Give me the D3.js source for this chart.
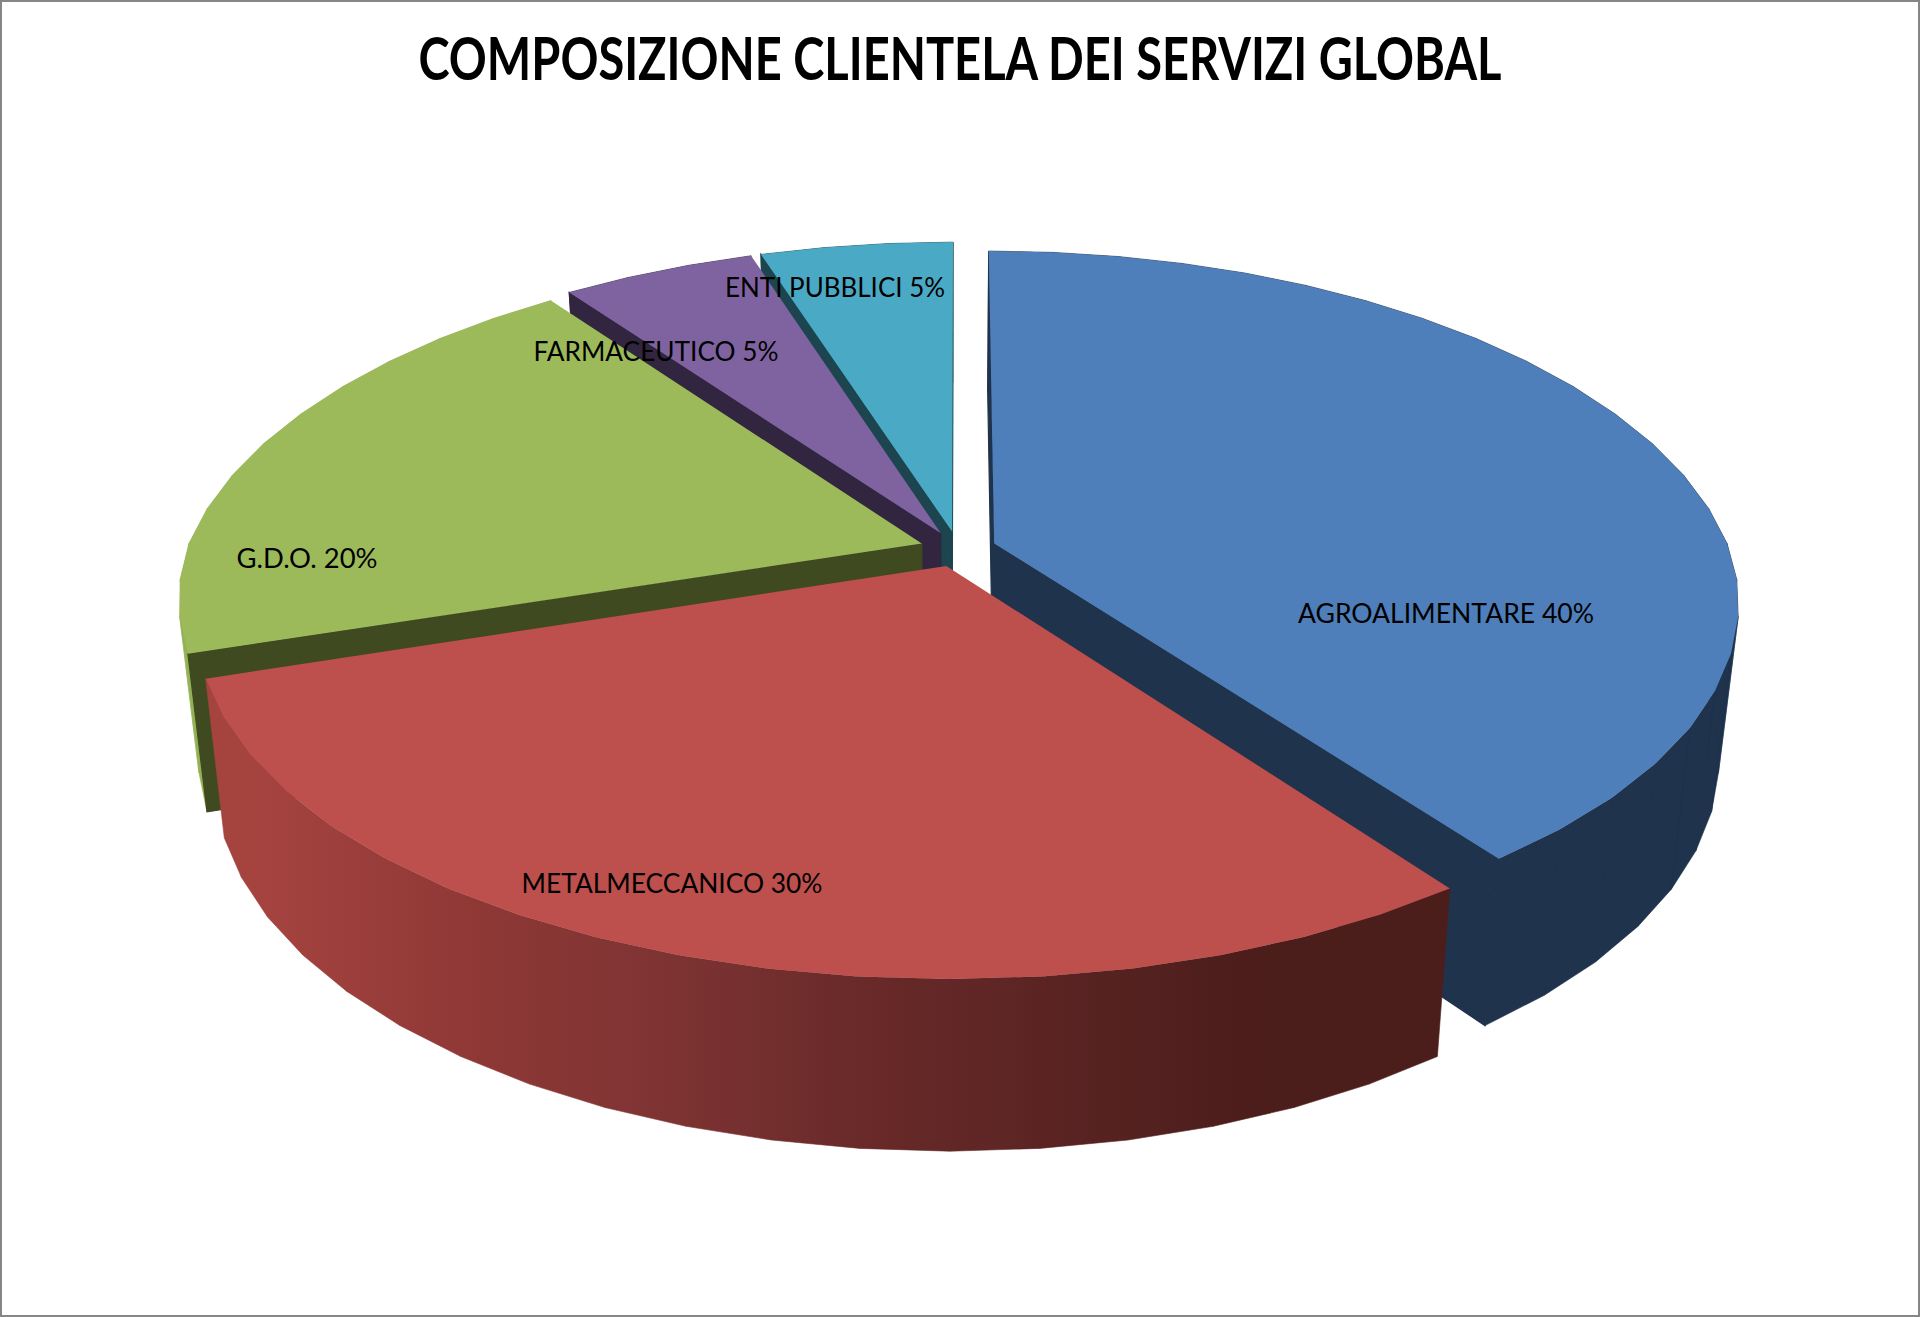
<!DOCTYPE html>
<html>
<head>
<meta charset="utf-8">
<script src="https://cdn.jsdelivr.net/npm/d3@7"></script>
<style>
  html,body{margin:0;padding:0;background:#fff}
  svg{display:block}
  text{font-family:Lato,"Open Sans",sans-serif;fill:#000}
</style>
</head>
<body>
<script>
const title = 'COMPOSIZIONE CLIENTELA DEI SERVIZI GLOBAL'
const categories = ['AGROALIMENTARE','METALMECCANICO','G.D.O.','FARMACEUTICO','ENTI PUBBLICI']
const values = [40,30,20,5,5]
const topColors = ['#4f7fba','#bd4f4c','#9cba5a','#7f63a0','#4aa9c4']
const faceColors = ['#1f334c','#4a1c1b','#3f4a20','#31253f','#1c4550']
const redSideStops = ['#a5433f','#8c3735','#7f3433','#6a2a29','#5a2423','#4b1d1b']

const W = 1920, H = 1317
const svg = d3.select('body').append('svg').attr('width',W).attr('height',H)

// Projection of the tilted disc, fitted on the picture
const view = {cx:958,cy:549,rx:735,ry:341,persp:0.16,perspBack:0.182,shear:0.014,explode:0.052,vpx:950,shrink:0.975,dropA:130,dropB:0.043,step:Math.PI/30}

const project = (a,b) => {
  const y = view.ry*b/(1-view.persp*b)
  const denX = 1-(b<0 ? view.perspBack : view.persp)*b
  // only the front half leans to the right
  return [view.cx+view.rx*a/denX+view.shear*Math.max(y,0), view.cy+y]
}
const drop = ([x,y]) => [view.vpx+(x-view.vpx)*view.shrink, y+view.dropA+view.dropB*y]
const path = pts => 'M'+pts.map(p => p[0].toFixed(1)+','+p[1].toFixed(1)).join('L')+'Z'

const arcs = d3.pie().sort(null).startAngle(0).endAngle(2*Math.PI)(values)

function rim(d){
  const mid = (d.startAngle+d.endAngle)/2
  const ox = view.explode*Math.sin(mid), oy = -view.explode*Math.cos(mid)
  const angles = [d.startAngle]
  for(let t = Math.ceil(d.startAngle/view.step+1e-6)*view.step; t < d.endAngle-1e-6; t += view.step) angles.push(t)
  angles.push(d.endAngle)
  return {
    apex: project(ox,oy),
    pts: angles.map(t => project(ox+Math.sin(t),oy-Math.cos(t)))
  }
}

const xSide = d3.scaleLinear().domain([260,500,650,850,1050,1250]).range(redSideStops).clamp(true)
const defs = svg.append('defs')
defs.append('linearGradient').attr('id','redSide').attr('gradientUnits','userSpaceOnUse')
  .attr('x1',0).attr('x2',W).attr('y1',0).attr('y2',0)
  .selectAll('stop').data(d3.range(0,1921,40))
  .enter().append('stop')
    .attr('offset',d => d/W)
    .attr('stop-color',d => xSide(d))

// frame
svg.append('rect').attr('x',1).attr('y',1).attr('width',W-2).attr('height',H-2)
  .attr('fill','#fff').attr('stroke','#868686').attr('stroke-width',2)

// back slices first, red one last
const order = [4,3,2,0,1]
const $slices = svg.selectAll('g.slice').data(order.map(i => ({arc:arcs[i],i})))
  .enter().append('g').classed('slice',true)

$slices.each(function({arc,i}){
  const g = d3.select(this)
  const {apex,pts} = rim(arc)

  // outer wall as convex quads of the same winding, so the fold at the silhouette stays filled
  const wall = d3.pairs(pts).map(([p,q]) => path(d3.polygonHull([p,q,drop(q),drop(p)]))).join('')
  const fill = i==1 ? 'url(#redSide)' : i==2 ? '#93b155' : faceColors[i]
  g.append('path').attr('d',wall).attr('fill',fill)
    .attr('stroke',fill).attr('stroke-width',0.6).attr('stroke-linejoin','round')

  // radial cuts, only those turned towards the viewer
  const cuts = [[pts[0],-Math.sin(arc.startAngle)],[pts[pts.length-1],Math.sin(arc.endAngle)]]
  cuts.filter(c => c[1] >= -1e-6).forEach(([p]) => {
    g.append('path').attr('d',path([apex,p,drop(p),drop(apex)]))
      .attr('fill',faceColors[i]).attr('stroke',faceColors[i]).attr('stroke-width',1.2)
  })

  g.append('path').attr('d',path([apex].concat(pts))).attr('fill',topColors[i])
})

// label centres and widths
const labelAt = [[1446,613],[672,883],[307,558],[656,351],[835,287]]
const labelWidth = [296,301,141,245,220]
svg.selectAll('text.label').data(categories)
  .enter().append('text').classed('label',true)
    .attr('x',(d,i) => labelAt[i][0])
    .attr('y',(d,i) => labelAt[i][1])
    .attr('dy','0.36em')
    .attr('text-anchor','middle')
    .attr('font-size',27)
    .attr('textLength',(d,i) => labelWidth[i])
    .attr('lengthAdjust','spacingAndGlyphs')
    .text((d,i) => d+' '+values[i]+'%')

svg.append('text')
  .attr('x',960).attr('y',80)
  .attr('text-anchor','middle')
  .attr('font-size',59).attr('font-weight',700)
  .attr('textLength',1083).attr('lengthAdjust','spacingAndGlyphs')
  .text(title)
</script>
</body>
</html>
